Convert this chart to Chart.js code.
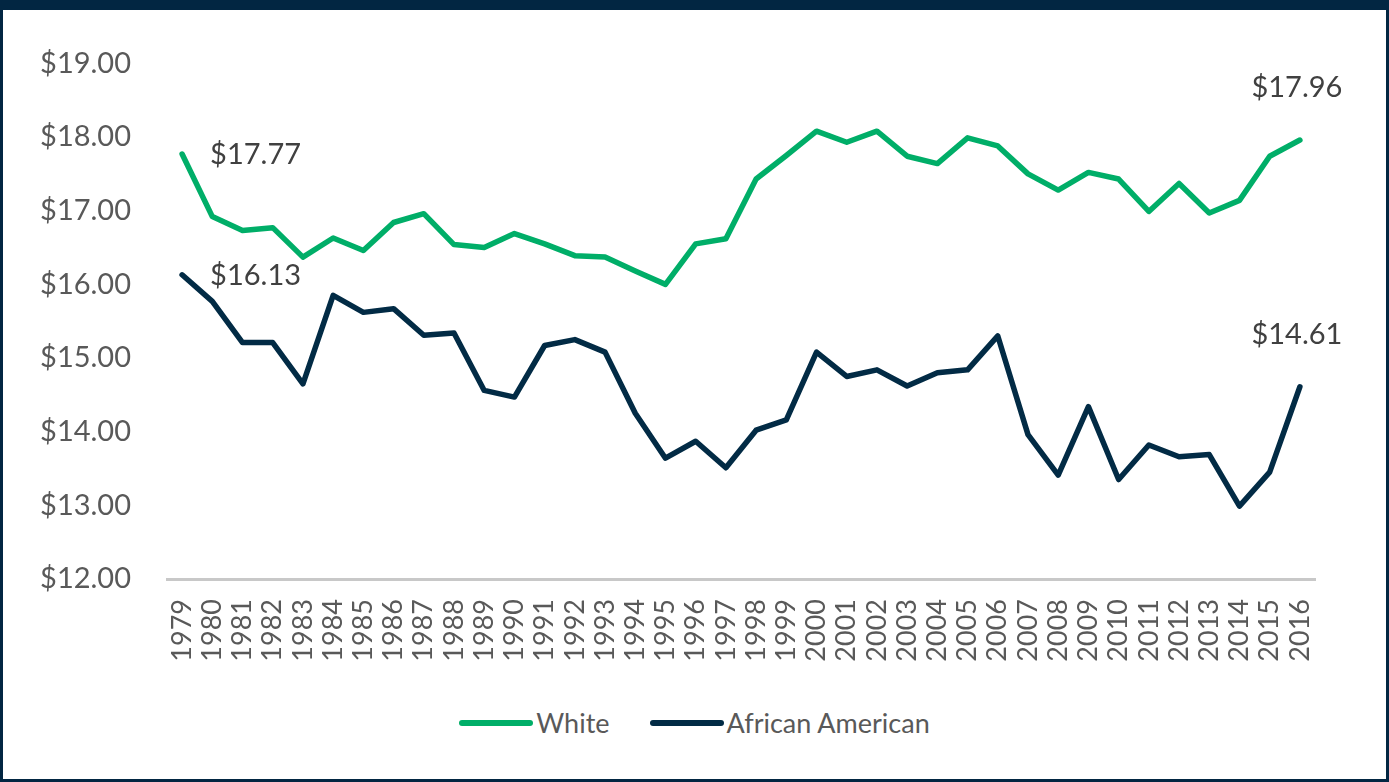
<!DOCTYPE html>
<html>
<head>
<meta charset="utf-8">
<script src="https://cdn.jsdelivr.net/npm/chart.js@4"></script>
<style>
    html, body { margin: 0; padding: 0; background: #fff; }
    #frame {
        position: absolute; left: 0; top: 0;
        width: 1383px; height: 769px;
        border-top: 10px solid #022642;
        border-left: 3px solid #022642;
        border-right: 3px solid #022642;
        border-bottom: 3px solid #022642;
        background: #fff;
    }
    #chartBox { position: absolute; left: 0; top: 0; width: 1383px; height: 690px; }
    #legend {
        position: absolute; left: 0; top: 696px; width: 1383px;
        display: flex; justify-content: center; align-items: center;
        font-family: Lato, sans-serif; font-size: 27px; color: #595959;
    }
    .item { display: flex; align-items: center; margin: 0 20px; }
    .swatch { width: 74px; height: 6px; border-radius: 3px; margin-right: 3px; }
</style>
</head>
<body>
<div id="frame">
    <div id="chartBox"><canvas id="chartCanvas" width="1383" height="690"></canvas></div>
    <div id="legend"></div>
</div>
<script>
// 年份
const years = ['1979', '1980', '1981', '1982', '1983', '1984', '1985', '1986', '1987', '1988',
    '1989', '1990', '1991', '1992', '1993', '1994', '1995', '1996', '1997', '1998',
    '1999', '2000', '2001', '2002', '2003', '2004', '2005', '2006', '2007', '2008',
    '2009', '2010', '2011', '2012', '2013', '2014', '2015', '2016']

// 时薪中位数
const whiteWages = [17.77, 16.92, 16.73, 16.77, 16.37, 16.63, 16.46, 16.84, 16.96, 16.54,
    16.50, 16.69, 16.55, 16.39, 16.37, 16.18, 16.00, 16.55, 16.62, 17.43,
    17.75, 18.08, 17.93, 18.08, 17.74, 17.64, 17.99, 17.88, 17.50, 17.28,
    17.52, 17.43, 16.99, 17.37, 16.97, 17.14, 17.74, 17.96]
const blackWages = [16.13, 15.77, 15.21, 15.21, 14.65, 15.85, 15.62, 15.67, 15.31, 15.34,
    14.56, 14.47, 15.17, 15.25, 15.08, 14.25, 13.64, 13.87, 13.51, 14.02,
    14.16, 15.08, 14.75, 14.84, 14.62, 14.80, 14.84, 15.30, 13.96, 13.41,
    14.34, 13.35, 13.82, 13.66, 13.69, 12.99, 13.45, 14.61]

// y轴刻度
const yTicks = [12, 13, 14, 15, 16, 17, 18, 19]

const seriesNames = ['White', 'African American']
const seriesColors = ['#00AE68', '#022B45']

const money = v => '$' + v.toFixed(2)

// 首尾数据标签
const endLabels = {
    id: 'endLabels',
    afterDatasetsDraw(chart) {
        const ctx = chart.ctx
        ctx.save()
        ctx.font = '29px Lato, sans-serif'
        ctx.fillStyle = '#404040'
        ctx.textBaseline = 'middle'
        chart.data.datasets.forEach((ds, i) => {
            const pts = chart.getDatasetMeta(i).data
            const first = pts[0]
            const last = pts[pts.length - 1]
            ctx.textAlign = 'left'
            ctx.fillText(money(ds.data[0]), first.x + 28, first.y + 1)
            ctx.textAlign = 'center'
            ctx.fillText(money(ds.data[ds.data.length - 1]), last.x - 3, last.y - 52)
        })
        ctx.restore()
    }
}

const chart = new Chart(document.getElementById('chartCanvas').getContext('2d'), {
    type: 'line',
    data: {
        labels: years,
        datasets: [
            { label: seriesNames[0], data: whiteWages, borderColor: seriesColors[0] },
            { label: seriesNames[1], data: blackWages, borderColor: seriesColors[1] }
        ]
    },
    options: {
        responsive: false,
        animation: false,
        layout: { padding: { left: 0, right: 71, top: 44, bottom: 0 } },
        elements: {
            line: { borderWidth: 5.5, tension: 0, borderCapStyle: 'round', borderJoinStyle: 'round', fill: false },
            point: { radius: 0 }
        },
        plugins: {
            legend: { display: false },
            tooltip: { enabled: false }
        },
        scales: {
            x: {
                offset: true,
                grid: { display: false, drawTicks: false },
                border: { display: true, color: '#C8C8C8', width: 3 },
                ticks: {
                    minRotation: 90, maxRotation: 90, autoSkip: false, padding: 20,
                    color: '#595959', font: { family: 'Lato', size: 27 }
                },
                afterFit: scale => { scale.height = 121 }
            },
            y: {
                min: 12, max: 19,
                grid: { display: false, drawTicks: false },
                border: { display: false },
                afterBuildTicks: scale => { scale.ticks = yTicks.map(v => ({ value: v })) },
                ticks: {
                    padding: 36, color: '#595959', font: { family: 'Lato', size: 29 },
                    callback: v => money(v)
                },
                afterFit: scale => { scale.width = 164 }
            }
        }
    },
    plugins: [endLabels]
})

// 图例
const legendDiv = document.getElementById('legend')
chart.data.datasets.forEach(ds => {
    legendDiv.innerHTML += `<div class="item"><div class="swatch" style="background:${ds.borderColor}"></div><span>${ds.label}</span></div>`
})
</script>
</body>
</html>
